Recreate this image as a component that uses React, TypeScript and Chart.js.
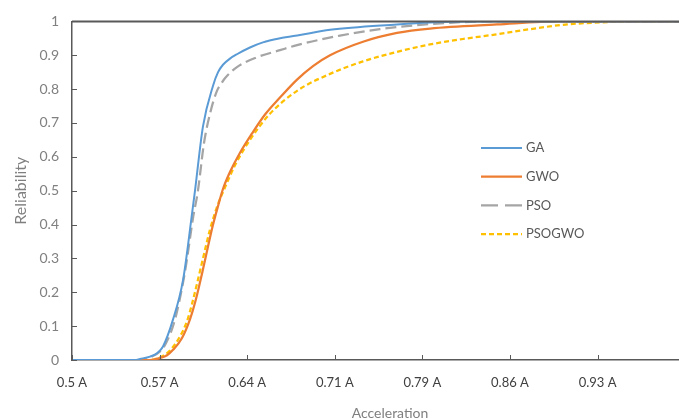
import React, { useEffect, useRef } from "react";
import { Chart, registerables } from "chart.js";
Chart.register(...registerables);

// ---- data ----
const xTickValues = [0.5, 0.5714, 0.6429, 0.7143, 0.7857, 0.8571, 0.9286];
const xTickLabels = ["0.5 A", "0.57 A", "0.64 A", "0.71 A", "0.79 A", "0.86 A", "0.93 A"];
const yTickValues = [0, 0.1, 0.2, 0.3, 0.4, 0.5, 0.6, 0.7, 0.8, 0.9, 1];
const yTickLabels = ["0", "0.1", "0.2", "0.3", "0.4", "0.5", "0.6", "0.7", "0.8", "0.9", "1"];
const seriesNames = ["GA", "GWO", "PSO", "PSOGWO"];

const gaX = [0.5, 0.5514, 0.5554, 0.5636, 0.5693, 0.5742, 0.5824, 0.5905, 0.5978, 0.6003, 0.6068, 0.615, 0.6191, 0.6231, 0.6288, 0.6345, 0.6451, 0.6557, 0.6696, 0.6859, 0.7104, 0.765, 0.7919, 0.8245, 1.02];
const gaY = [0, 0, 0.003, 0.01, 0.02, 0.04, 0.12, 0.235, 0.43, 0.5, 0.69, 0.81, 0.85, 0.872, 0.89, 0.903, 0.923, 0.938, 0.95, 0.96, 0.975, 0.991, 0.997, 1, 1];

const gwoX = [0.5, 0.5636, 0.5718, 0.5775, 0.5824, 0.5897, 0.5962, 0.6011, 0.606, 0.6109, 0.615, 0.6191, 0.6231, 0.6288, 0.637, 0.6468, 0.6574, 0.6696, 0.6835, 0.6965, 0.7104, 0.7373, 0.765, 0.7919, 0.8465, 0.8979, 1.02];
const gwoY = [0, 0, 0.006, 0.014, 0.03, 0.065, 0.12, 0.18, 0.255, 0.335, 0.4, 0.455, 0.505, 0.555, 0.612, 0.669, 0.725, 0.775, 0.828, 0.868, 0.9, 0.94, 0.966, 0.979, 0.991, 1, 1];

const psoX = [0.5, 0.5538, 0.5636, 0.5718, 0.5767, 0.584, 0.5921, 0.5987, 0.6027, 0.6076, 0.6125, 0.6182, 0.6215, 0.6247, 0.6345, 0.6508, 0.6696, 0.6835, 0.7185, 0.7511, 0.778, 0.8082, 0.8408, 1.02];
const psoY = [0, 0, 0.008, 0.025, 0.05, 0.12, 0.26, 0.42, 0.5, 0.64, 0.727, 0.795, 0.815, 0.832, 0.865, 0.894, 0.915, 0.93, 0.958, 0.977, 0.988, 0.996, 1, 1];

const psogwoX = [0.5, 0.5636, 0.5718, 0.5799, 0.5881, 0.5938, 0.5978, 0.6019, 0.6068, 0.6125, 0.619, 0.6248, 0.6329, 0.6451, 0.6614, 0.6835, 0.7104, 0.7373, 0.765, 0.7919, 0.8188, 0.8465, 0.8735, 0.9004, 0.9305, 0.9631, 1.02];
const psogwoY = [0, 0, 0.008, 0.028, 0.07, 0.115, 0.165, 0.225, 0.3, 0.385, 0.46, 0.51, 0.575, 0.65, 0.727, 0.795, 0.845, 0.882, 0.91, 0.932, 0.948, 0.962, 0.977, 0.99, 0.997, 1, 1];

const toPoints = (xs: number[], ys: number[]) => xs.map((x, i) => ({ x, y: ys[i] }));

const FONT = "Lato, 'Open Sans', sans-serif";
const AXIS_COLOR = "#595959";

const framePlugin = {
  id: "frame",
  afterDraw(chart: any) {
    const { ctx, chartArea } = chart;
    const xs = chart.scales.x;
    const ys = chart.scales.y;
    ctx.save();
    ctx.strokeStyle = AXIS_COLOR;
    ctx.lineWidth = 2;
    ctx.beginPath();
    ctx.moveTo(chartArea.left, chartArea.top);
    ctx.lineTo(chartArea.right, chartArea.top);
    ctx.stroke();
    ctx.lineWidth = 1;
    ys.ticks.forEach((t: any) => {
      const p = Math.round(ys.getPixelForValue(t.value)) + 0.5;
      ctx.beginPath();
      ctx.moveTo(chartArea.left, p);
      ctx.lineTo(chartArea.left + 5, p);
      ctx.stroke();
    });
    xs.ticks.forEach((t: any) => {
      const p = Math.round(xs.getPixelForValue(t.value)) + 0.5;
      ctx.beginPath();
      ctx.moveTo(p, chartArea.bottom);
      ctx.lineTo(p, chartArea.bottom - 5);
      ctx.stroke();
    });
    ctx.restore();
  },
};

const LEGEND_X = 481;
const LEGEND_Y = 148;
const LEGEND_STEP = 28.7;
const LEGEND_LINE = 41;

const legendPlugin = {
  id: "insideLegend",
  afterDraw(chart: any) {
    const ctx = chart.ctx;
    ctx.save();
    chart.data.datasets.forEach((ds: any, i: number) => {
      const y = LEGEND_Y + i * LEGEND_STEP;
      ctx.strokeStyle = ds.borderColor;
      ctx.lineWidth = ds.borderWidth;
      ctx.setLineDash(ds.legendDash || []);
      ctx.beginPath();
      ctx.moveTo(LEGEND_X, y);
      ctx.lineTo(LEGEND_X + LEGEND_LINE, y);
      ctx.stroke();
      ctx.setLineDash([]);
      ctx.fillStyle = AXIS_COLOR;
      ctx.font = `13px ${FONT}`;
      ctx.textBaseline = "middle";
      ctx.textAlign = "left";
      ctx.fillText(ds.label, LEGEND_X + LEGEND_LINE + 4, y);
    });
    ctx.restore();
  },
};

export default function App() {
  const canvasRef = useRef<HTMLCanvasElement | null>(null);

  useEffect(() => {
    if (!canvasRef.current) return;
    const common = { pointRadius: 0, fill: false, cubicInterpolationMode: "monotone" as const };
    const chart = new Chart(canvasRef.current, {
      type: "line",
      data: {
        datasets: [
          { ...common, label: seriesNames[0], data: toPoints(gaX, gaY), borderColor: "#5B9BD5", borderWidth: 2, legendDash: [] } as any,
          { ...common, label: seriesNames[1], data: toPoints(gwoX, gwoY), borderColor: "#ED7D31", borderWidth: 2.25, legendDash: [] } as any,
          { ...common, label: seriesNames[2], data: toPoints(psoX, psoY), borderColor: "#A5A5A5", borderWidth: 2.25, borderDash: [11, 5], legendDash: [17, 7] } as any,
          { ...common, label: seriesNames[3], data: toPoints(psogwoX, psogwoY), borderColor: "#FFC000", borderWidth: 2.25, borderDash: [5, 3], legendDash: [5, 3] } as any,
        ],
      },
      options: {
        responsive: false,
        animation: false,
        layout: { padding: { top: 19, left: 0, right: 0, bottom: 0 } },
        plugins: { legend: { display: false }, tooltip: { enabled: false } },
        scales: {
          x: {
            type: "linear",
            min: 0.5,
            max: 1.0186,
            afterBuildTicks: (scale: any) => {
              scale.ticks = xTickValues.map((v) => ({ value: v }));
            },
            afterFit: (scale: any) => {
              scale.height = 59;
            },
            ticks: {
              autoSkip: false,
              maxRotation: 0,
              padding: 15,
              color: "#404040",
              font: { family: FONT, size: 13 },
              callback: (_v: any, i: number) => xTickLabels[i],
            },
            grid: { display: false, drawTicks: false },
            border: { display: true, color: AXIS_COLOR, width: 1.5 },
            title: {
              display: true,
              text: "Acceleration",
              color: "#7f7f7f",
              font: { family: FONT, size: 14 },
              padding: { top: 0, bottom: -3 },
            },
          },
          y: {
            min: 0,
            max: 1,
            afterBuildTicks: (scale: any) => {
              scale.ticks = yTickValues.map((v) => ({ value: v }));
            },
            afterFit: (scale: any) => {
              scale.width = 72;
            },
            ticks: {
              padding: 13,
              color: "#808080",
              font: { family: FONT, size: 14 },
              callback: (_v: any, i: number) => yTickLabels[i],
            },
            grid: { display: false, drawTicks: false },
            border: { display: true, color: AXIS_COLOR, width: 1.5 },
            title: {
              display: true,
              text: "Reliability",
              color: "#7f7f7f",
              font: { family: FONT, size: 16 },
              padding: { top: 11, bottom: 0 },
            },
          },
        },
      },
      plugins: [framePlugin, legendPlugin],
    });
    return () => chart.destroy();
  }, []);

  return (
    <div style={{ position: "fixed", left: 0, top: 0, width: 679, height: 419, background: "#fff", overflow: "hidden" }}>
      <canvas ref={canvasRef} width={708} height={419} />
    </div>
  );
}
